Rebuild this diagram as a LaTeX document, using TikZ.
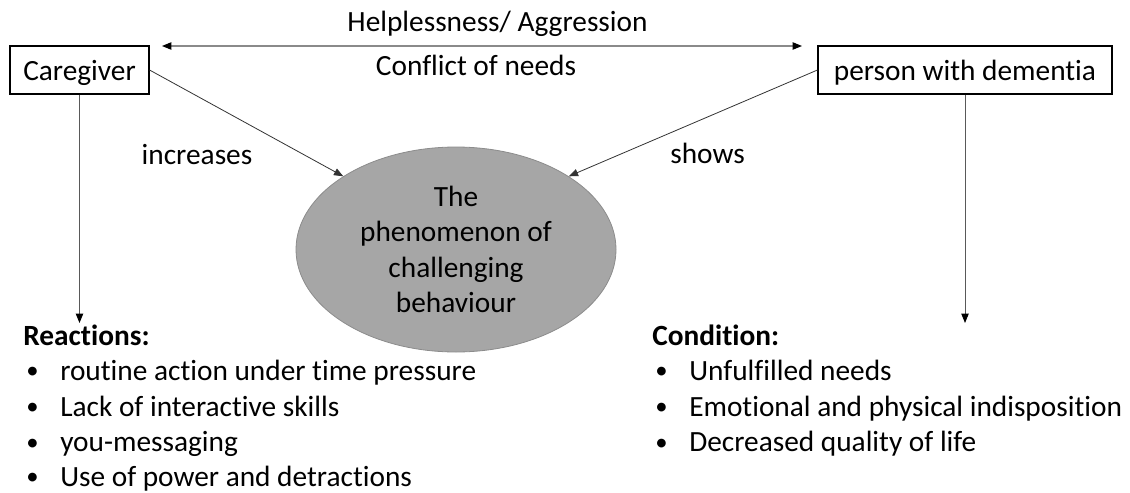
\documentclass[tikz,border=0pt]{standalone}
\usepackage{fontspec}
\setmainfont{Carlito}[Ligatures=NoCommon]
\usetikzlibrary{arrows.meta,shapes.geometric}
\definecolor{ellfill}{HTML}{A6A6A6}
\definecolor{elldraw}{HTML}{8C8C8C}
\definecolor{hline}{HTML}{8A8A8A}
\newcommand{\mybul}{\makebox[27.75pt][l]{\hspace{2.25pt}\raisebox{0.9pt}{\fontsize{18.5}{18.5}\selectfont\textbullet}}}
\begin{document}
\begin{tikzpicture}[x=0.75pt,y=-0.75pt,
  every node/.style={font=\fontsize{22}{26.6}\selectfont, inner sep=0pt, text=black},
  actor/.style={draw=black, line width=0.8pt, minimum height=36pt, text height=20pt, text depth=5pt},
  link/.style={draw=black!80, line width=0.6pt, -{Triangle[length=7pt,width=5.5pt]}},
  vlink/.style={draw=black!65, line width=0.7pt, -{Triangle[length=7pt,width=5.5pt,color=black]}},
  lbl/.style={anchor=base},
  head/.style={anchor=base west, font=\fontsize{22}{26.6}\selectfont\bfseries},
  item/.style={anchor=base west}
]
\useasboundingbox (0,0) rectangle (1130,492);

% main nodes
\node[actor, minimum width=104.25pt] (cg) at (79.5,70) {Caregiver};
\node[actor, minimum width=220.5pt] (pwd) at (965,70) {person with dementia};
\node[ellipse, fill=ellfill, draw=elldraw, line width=0.6pt,
      minimum width=240pt, minimum height=153.75pt, align=center] (ell) at (456,249.5)
      {The\\phenomenon of\\challenging\\behaviour};

% double arrow between actors
\coordinate (hl) at (162,46);
\coordinate (hr) at (802,46);
\draw[draw=hline, line width=0.8pt, {Triangle[length=7pt,width=5.5pt,color=black]}-{Triangle[length=7pt,width=5.5pt,color=black]}] (hl) -- (hr);
\node[lbl] (helpl) at (497.5,32) {Helplessness/ Aggression};
\node[lbl] (confl) at (476,75) {Conflict of needs};

% links to the ellipse
\draw[link] (cg.east) -- (ell.147);
\draw[link] (pwd.west) -- (ell.33);
\node[lbl] (incr) at (197,164) {increases};
\node[lbl] (shows) at (707.5,163) {shows};

% downward links
\coordinate (reactip) at (79.5,323);
\coordinate (condtip) at (965,323);
\draw[vlink] (cg.south) -- (reactip);
\draw[vlink] (pwd.south) -- (condtip);

% Reactions list
\node[head] (reach) at (23,345.5) {Reactions:};
\node[item] (r1) at (23,380) {\mybul routine action under time pressure};
\node[item] (r2) at (23,416) {\mybul Lack of interactive skills};
\node[item] (r3) at (23,451.5) {\mybul you-messaging};
\node[item] (r4) at (23,486) {\mybul Use of power and detractions};

% Condition list
\node[head] (condh) at (652,345.5) {Condition:};
\node[item] (c1) at (652,380) {\mybul Unfulfilled needs};
\node[item] (c2) at (652,416) {\mybul Emotional and physical indisposition};
\node[item] (c3) at (652,451.5) {\mybul Decreased quality of life};
\end{tikzpicture}
\end{document}
